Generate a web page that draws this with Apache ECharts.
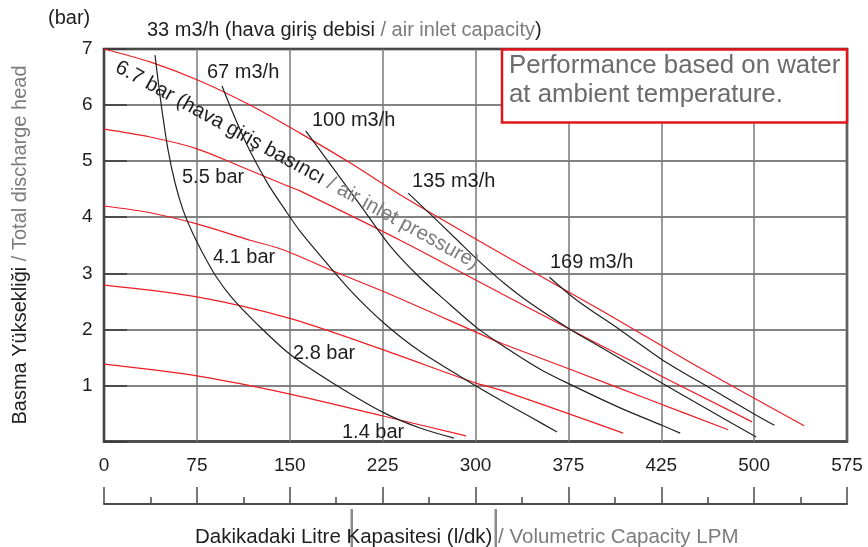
<!DOCTYPE html>
<html><head><meta charset="utf-8">
<script src="https://cdn.jsdelivr.net/npm/echarts@6/dist/echarts.min.js"></script>
<style>html,body{margin:0;padding:0;background:#fff}#c{width:868px;height:547px}</style>
</head><body><div id="c"></div>
<script>
// Tick labels as printed on the reference (positions are equally spaced)
const xTickLabels = ['0','75','150','225','300','375','425','500','575'];
const yTickLabels = ['', '1','2','3','4','5','6','7'];

// Air inlet pressure curves (red), [flow, head bar]
const bar67 = [[0,7.00],[37.2,6.77],[77.5,6.43],[117.9,6.00],[158.3,5.50],[198.7,4.97],[239.1,4.40],[319.9,3.36],[400.6,2.35],[481.4,1.31],[565.4,0.28]];
const bar55 = [[0,5.57],[37.2,5.43],[75.1,5.22],[109.9,4.91],[147.8,4.56],[158.3,4.47],[239.1,3.59],[319.9,2.65],[400.6,1.72],[523.4,0.35]];
const bar41 = [[0,4.20],[37.2,4.08],[75.1,3.88],[117.9,3.59],[144.6,3.42],[185.0,3.04],[226.2,2.67],[300.5,1.95],[319.9,1.76],[377.3,1.28],[441.1,0.74],[504.0,0.21]];
const bar28 = [[0,2.79],[75.1,2.58],[149.4,2.20],[226.2,1.63],[300.5,1.04],[319.9,0.92],[419.2,0.15]];
const bar14 = [[0,1.38],[75.1,1.17],[149.4,0.85],[226.2,0.45],[292.4,0.10]];

// Air consumption curves (black), [flow, head bar]
const air33 = [[41.2,6.89],[43.6,6.45],[46.8,5.91],[51.7,5.20],[57.4,4.61],[63.8,4.13],[71.1,3.74],[79.2,3.38],[89.7,2.97],[103.4,2.56],[122.0,2.13],[149.4,1.57],[185.0,1.04],[226.2,0.51],[255.2,0.24],[282.7,0.06]];
const air67 = [[95.3,6.34],[105.8,5.77],[117.9,5.18],[132.5,4.59],[147.8,4.08],[158.3,3.75],[172.1,3.38],[198.7,2.70],[226.2,2.11],[255.2,1.61],[300.5,0.99],[319.9,0.74],[344.1,0.44],[365.9,0.17]];
const air100 = [[162.9,5.54],[182.5,4.95],[206.8,4.22],[231.0,3.49],[255.2,2.92],[279.5,2.44],[300.5,2.04],[319.9,1.74],[352.2,1.29],[377.3,1.01],[416.8,0.60],[451.5,0.28],[465.3,0.15]];
const air135 = [[245.6,4.43],[263.3,4.06],[283.5,3.63],[303.7,3.20],[323.9,2.81],[344.1,2.47],[377.2,1.99],[400.6,1.69],[451.5,1.03],[481.4,0.65],[526.7,0.08]];
const air169 = [[359.7,2.93],[381.8,2.52],[416.8,1.99],[451.3,1.45],[489.6,0.95],[526.7,0.47],[541.4,0.29]];

const redCurves = [bar67, bar55, bar41, bar28, bar14];
const blackCurves = [air33, air67, air100, air135, air169];

const FONT = "'Liberation Sans', Arial, Helvetica, sans-serif";
const DARK = '#1e1e1e';
const GRAY = '#7c7c7c';

const chart = echarts.init(document.getElementById('c'), null, {renderer: 'canvas'});

const series = [];
redCurves.forEach(d => series.push({
  type: 'line', data: d, smooth: 0.3, showSymbol: false, silent: true,
  lineStyle: {color: '#ee1c24', width: 1.2}, z: 3
}));
blackCurves.forEach(d => series.push({
  type: 'line', data: d, smooth: 0.3, showSymbol: false, silent: true,
  lineStyle: {color: '#222', width: 1.2}, z: 3
}));

function txt(x, y, text, size, extra) {
  return Object.assign({
    type: 'text', x: x, y: y, z: 20,
    style: {text: text, fill: DARK, font: size + 'px ' + FONT, align: 'left', verticalAlign: 'middle'}
  }, extra || {});
}
function richStyle(text, size, align) {
  return {
    text: text, font: size + 'px ' + FONT, align: align || 'left', verticalAlign: 'middle',
    rich: {
      a: {fill: DARK, fontSize: size, fontFamily: FONT},
      b: {fill: GRAY, fontSize: size, fontFamily: FONT}
    }
  };
}

const option = {
  backgroundColor: '#fff',
  animation: false,
  grid: {left: 104, top: 49, right: 21, bottom: 105.5, show: true, borderColor: '#1a1a1a', borderWidth: 2.5, backgroundColor: 'transparent'},
  xAxis: [{
    type: 'value', min: 0, max: 600, interval: 75, gridIndex: 0, position: 'bottom',
    axisLine: {show: false}, axisTick: {show: false},
    axisLabel: {margin: 15, color: DARK, fontSize: 19, fontFamily: FONT,
      formatter: v => xTickLabels[Math.round(v / 75)] || ''},
    splitLine: {show: true, lineStyle: {color: '#7a7a7a', width: 1.5}}
  }, {
    type: 'value', min: 0, max: 600, interval: 75, gridIndex: 0, position: 'bottom', offset: 62.5,
    axisLine: {show: true, lineStyle: {color: '#4a4a4a', width: 2}},
    axisTick: {show: true, inside: true, length: 17, lineStyle: {color: '#4a4a4a', width: 1.5}},
    minorTick: {show: true, splitNumber: 2, length: 7, lineStyle: {color: '#4a4a4a', width: 1.5}},
    axisLabel: {show: false}, splitLine: {show: false}
  }],
  yAxis: [{
    type: 'value', min: 0, max: 7, interval: 1, position: 'left', offset: 54,
    axisLine: {show: true, lineStyle: {color: '#3a3a3a', width: 1.5}},
    axisTick: {show: true, inside: true, length: 23, lineStyle: {color: '#3a3a3a', width: 1.5}},
    axisLabel: {inside: true, margin: 32, color: DARK, fontSize: 19, fontFamily: FONT,
      formatter: v => yTickLabels[Math.round(v)] || ''},
    splitLine: {show: true, lineStyle: {color: '#5a5a5a', width: 1.5}}
  }],
  series: series,
  graphic: [
    txt(48, 18, '(bar)', 20),
    {type: 'text', z: 20, x: 147, y: 30, style: richStyle('{a|33 m3/h (hava giriş debisi }{b|/ air inlet capacity}{a|)}', 20)},
    {type: 'text', z: 20, x: 20, y: 245, rotation: Math.PI / 2,
      style: richStyle('{a|Basma Yüksekliği }{b|/ Total discharge head}', 20, 'center')},
    {type: 'rect', z: 15, shape: {x: 502, y: 49.5, width: 345, height: 73},
      style: {fill: '#fff', stroke: '#e3151b', lineWidth: 2.5}},
    {type: 'text', z: 20, x: 509, y: 52, style: {text: 'Performance based on water\nat ambient temperature.',
      fill: '#6b6b6b', font: '25.8px ' + FONT, lineHeight: 28.5, align: 'left', verticalAlign: 'top'}},
    txt(207, 72, '67 m3/h', 20),
    txt(312, 120, '100 m3/h', 20),
    txt(412, 181, '135 m3/h', 20),
    txt(550, 262, '169 m3/h', 20),
    txt(182, 177, '5.5 bar', 20),
    txt(213, 257, '4.1 bar', 20),
    txt(293, 353, '2.8 bar', 20),
    txt(342, 432, '1.4 bar', 20),
    {type: 'text', z: 20, x: 297, y: 165, rotation: -28.8 * Math.PI / 180,
      style: richStyle('{a|6.7 bar (hava giriş basıncı }{b|/ air inlet pressure)}', 20.5, 'center')},
    {type: 'rect', z: 10, shape: {x: 350.5, y: 509, width: 2.5, height: 38}, style: {fill: '#8a8a8a'}},
    {type: 'rect', z: 10, shape: {x: 494.5, y: 509, width: 2.5, height: 38}, style: {fill: '#8a8a8a'}},
    {type: 'text', z: 20, x: 195, y: 537, style: richStyle('{a|Dakikadaki Litre Kapasitesi (l/dk)}{b| / Volumetric Capacity LPM}', 20.5)}
  ]
};
chart.setOption(option);
</script>
</body></html>
